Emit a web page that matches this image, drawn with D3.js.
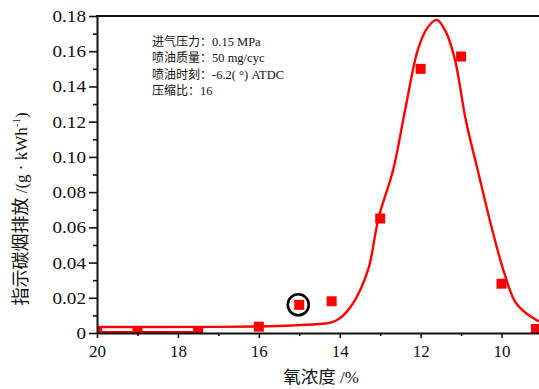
<!DOCTYPE html>
<html>
<head>
<meta charset="utf-8">
<script src="https://cdn.jsdelivr.net/npm/d3@7"></script>
<style>
  html, body { margin: 0; padding: 0; background: #fff; }
  svg { display: block; }
</style>
</head>
<body>
<svg id="chart" width="539" height="389"></svg>
<script>
// Measured soot emission versus intake oxygen concentration
const oxygen = [20, 19, 17.5, 16, 15, 14.2, 13, 12, 11, 10, 9.15];
const soot   = [0.0006, 0.0006, 0.0006, 0.0036, 0.016, 0.018, 0.065, 0.15, 0.157, 0.028, 0.0023];

// Fitted trend curve
const fitOxygen = [20, 17, 16, 15.5, 15, 14.6, 14.25, 14.0, 13.67, 13.3, 13.04, 12.68, 12.38, 12.07, 11.83, 11.6, 11.38, 11.16, 10.88, 10.59, 10.25, 9.93, 9.64, 9.14, 9.0];
const fitSoot   = [0.0034, 0.0035, 0.0037, 0.0040, 0.0045, 0.0050, 0.0057, 0.0083, 0.0169, 0.0358, 0.0653, 0.0926, 0.127, 0.1607, 0.1734, 0.1778, 0.1711, 0.156, 0.1205, 0.0926, 0.0604, 0.0339, 0.0169, 0.0074, 0.0062];

// Indices of the low points that sit on the baseline, and the highlighted point
const baselineIdx = [0, 1, 2];
const circledIdx = 4;

const xMajorTicks = [20, 18, 16, 14, 12, 10];
const xMinorTicks = [19, 17, 15, 13, 11];
const yMajorTicks = [0, 0.02, 0.04, 0.06, 0.08, 0.10, 0.12, 0.14, 0.16, 0.18];
const yMinorTicks = [0.01, 0.03, 0.05, 0.07, 0.09, 0.11, 0.13, 0.15, 0.17];

const noteLines = [
  ["进气压力：", "0.15 MPa"],
  ["喷油质量：", "50 mg/cyc"],
  ["喷油时刻：", "-6.2( °) ATDC"],
  ["压缩比：", "16"]
];

const xTitleCn = "氧浓度", xTitleUnit = " /%";
const yTitleCn = "指示碳烟排放", yTitleUnit = " /(g · kWh";

const RED = "#ff0000";
const SERIF = "'Liberation Serif', 'Times New Roman', serif";
const SANS = "'Noto Sans CJK SC', sans-serif";

const svg = d3.select("#chart");
const plotL = 97, plotT = 16, plotB = 333, plotR = 542;

const x = d3.scaleLinear().domain([20, 9]).range([plotL, plotR]);
const y = d3.scaleLinear().domain([0, 0.18]).range([plotB, plotT]);

svg.append("defs").append("clipPath").attr("id", "plot")
  .append("rect").attr("x", plotL).attr("y", plotT)
  .attr("width", plotR - plotL).attr("height", plotB - plotT);

const plot = svg.append("g").attr("clip-path", "url(#plot)");

// fitted curve
const fit = fitOxygen.map((o, i) => [o, fitSoot[i]]);
plot.append("path")
  .datum(fit)
  .attr("fill", "none")
  .attr("stroke", RED)
  .attr("stroke-width", 2.4)
  .attr("stroke-linejoin", "round")
  .attr("d", d3.line().x(d => x(d[0])).y(d => y(d[1])).curve(d3.curveCatmullRom.alpha(0.5)));

// line joining the baseline points
const base = baselineIdx.map(i => [oxygen[i], soot[i]]);
plot.append("path")
  .datum(base)
  .attr("fill", "none")
  .attr("stroke", RED)
  .attr("stroke-width", 2)
  .attr("d", d3.line().x(d => x(d[0])).y(d => y(d[1])));

// square markers
const ms = 10;
plot.selectAll("rect.pt")
  .data(oxygen.map((o, i) => [o, soot[i]]))
  .join("rect")
  .attr("class", "pt")
  .attr("x", d => x(d[0]) - ms / 2)
  .attr("y", d => y(d[1]) - ms / 2)
  .attr("width", ms)
  .attr("height", ms)
  .attr("fill", RED);

// axes
const xAxis = d3.axisBottom(x).tickValues(xMajorTicks).tickSize(5).tickSizeOuter(0)
  .tickFormat(d3.format("d"));
const gx = svg.append("g").attr("transform", `translate(0,${plotB})`).call(xAxis);
gx.select(".domain").attr("stroke", "#111").attr("stroke-width", 2);
gx.selectAll(".tick line").attr("stroke", "#111").attr("stroke-width", 1.6);
gx.selectAll(".tick text").attr("font-family", SERIF).attr("font-size", 17)
  .attr("fill", "#111").attr("dy", "0.95em");

svg.append("g").attr("transform", `translate(0,${plotB})`)
  .call(d3.axisBottom(x).tickValues(xMinorTicks).tickSize(3).tickFormat(""))
  .call(g => g.select(".domain").remove())
  .selectAll("line").attr("stroke", "#111").attr("stroke-width", 1.6);

const yAxis = d3.axisLeft(y).tickValues(yMajorTicks).tickSize(8).tickSizeOuter(0)
  .tickFormat(d => d === 0 ? "0" : d3.format(".2f")(d));
const gy = svg.append("g").attr("transform", `translate(${plotL},0)`).call(yAxis);
gy.select(".domain").attr("stroke", "#111").attr("stroke-width", 2);
gy.selectAll(".tick line").attr("stroke", "#111").attr("stroke-width", 1.6);
gy.selectAll(".tick text")
  .attr("font-family", SERIF).attr("font-size", 17).attr("fill", "#111")
  .attr("x", null)
  .attr("transform", "translate(-11,0) scale(1.13,1)");

svg.append("g").attr("transform", `translate(${plotL},0)`)
  .call(d3.axisLeft(y).tickValues(yMinorTicks).tickSize(4).tickFormat(""))
  .call(g => g.select(".domain").remove())
  .selectAll("line").attr("stroke", "#111").attr("stroke-width", 1.6);

// top frame line
svg.append("line")
  .attr("x1", plotL - 1).attr("x2", plotR).attr("y1", plotT).attr("y2", plotT)
  .attr("stroke", "#111").attr("stroke-width", 2);

// highlight ring around one point
svg.append("circle")
  .attr("cx", x(oxygen[circledIdx]) - 1)
  .attr("cy", y(soot[circledIdx]))
  .attr("r", 10.5)
  .attr("fill", "none")
  .attr("stroke", "#000")
  .attr("stroke-width", 2.6);

// operating-condition notes
const note = svg.append("g");
noteLines.forEach((ln, i) => {
  const t = note.append("text")
    .attr("x", 152).attr("y", 45.5 + i * 16.5)
    .attr("font-size", 12).attr("fill", "#111");
  t.append("tspan").attr("font-family", SANS).text(ln[0]);
  t.append("tspan").attr("font-family", SERIF).attr("font-size", 12.5).text(ln[1]);
});

// x-axis title
const xt = svg.append("text")
  .attr("x", 321).attr("y", 383)
  .attr("text-anchor", "middle").attr("fill", "#111");
xt.append("tspan").attr("font-family", SANS).attr("font-size", 17.5).text(xTitleCn);
xt.append("tspan").attr("font-family", SERIF).attr("font-size", 17).text(xTitleUnit);

// y-axis title
const yt = svg.append("text")
  .attr("transform", "translate(27,209) rotate(-90)")
  .attr("text-anchor", "middle").attr("fill", "#111");
yt.append("tspan").attr("font-family", SANS).attr("font-size", 18).text(yTitleCn);
yt.append("tspan").attr("font-family", SERIF).attr("font-size", 17).text(yTitleUnit);
yt.append("tspan").attr("font-family", SERIF).attr("font-size", 11).attr("dy", -7).text("-1");
yt.append("tspan").attr("font-family", SERIF).attr("font-size", 17).attr("dy", 7).text(")");
</script>
</body>
</html>
